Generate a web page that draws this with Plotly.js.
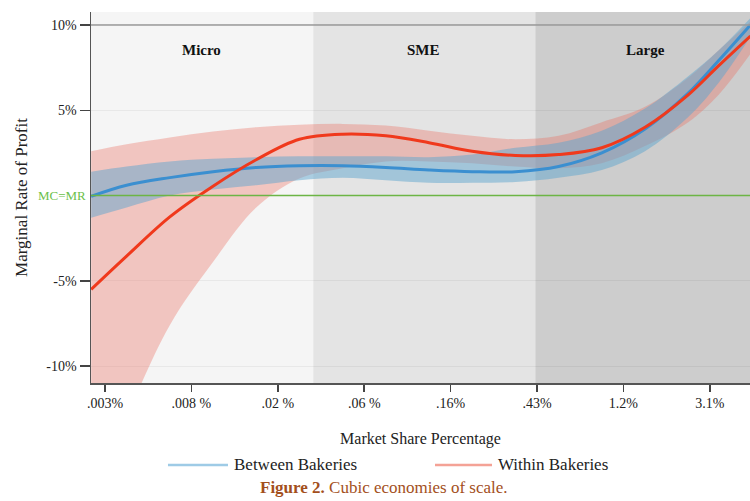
<!DOCTYPE html>
<html>
<head>
<meta charset="utf-8">
<script src="https://cdn.plot.ly/plotly-3.0.1.min.js"></script>
<style>html,body{margin:0;padding:0;background:#fff;}#chart{width:750px;height:501px;}</style>
</head>
<body>
<div id="chart"></div>
<script>
// Market-share tick labels (log-spaced positions 0..7)
const tickLabels = [".003%", ".008 %", ".02 %", ".06 %", ".16%", ".43%", "1.2%", "3.1%"];
const tickPos = [0, 1, 2, 3, 4, 5, 6, 7];

// sample positions along the market-share (log) axis
const xPos = [-0.16, 0.25, 0.75, 1.25, 1.75, 2.25, 2.75, 3.25, 3.75, 4.25, 4.75, 5.25, 5.75, 6.25, 6.75, 7.1, 7.47];

// Between Bakeries: fit and confidence band (%)
const betweenFit   = [-0.05, 0.6, 1.05, 1.4, 1.65, 1.75, 1.75, 1.65, 1.5, 1.4, 1.4, 1.7, 2.5, 3.9, 6.0, 7.9, 10.0];
const betweenUpper = [1.4, 1.7, 2.0, 2.15, 2.25, 2.3, 2.3, 2.3, 2.25, 2.4, 2.8, 3.1, 3.8, 5.1, 7.0, 8.5, 10.4];
const betweenLower = [-1.3, -0.7, 0.0, 0.35, 0.6, 0.9, 1.05, 0.9, 0.75, 0.75, 0.8, 1.05, 1.5, 2.6, 4.6, 6.6, 9.3];

// Within Bakeries: fit and confidence band (%)
const withinFit   = [-5.5, -3.55, -1.25, 0.55, 2.1, 3.3, 3.6, 3.5, 3.1, 2.6, 2.35, 2.4, 2.8, 4.0, 5.9, 7.6, 9.35];
const withinUpper = [2.6, 3.0, 3.4, 3.75, 4.0, 4.15, 4.2, 4.1, 3.8, 3.5, 3.3, 3.5, 4.3, 5.2, 6.9, 8.5, 10.2];
const withinLower = [-18, -13.0, -7.6, -3.9, -0.7, 1.0, 1.6, 2.0, 2.0, 1.9, 1.7, 1.6, 1.9, 2.9, 4.3, 5.9, 8.3];

// Firm-size regions (boundaries on the same axis)
const regionNames = ["Micro", "SME", "Large"];
const regionBounds = [-0.162, 2.41, 4.98, 7.465];

// y ticks
const yTickVals = [10, 5, -5, -10];
const yTickText = ["10%", "5%", "-5%", "-10%"];

const serif = "Liberation Serif, Times New Roman, serif";
const regionColors = ["#f5f5f5", "#e4e4e4", "#cdcdcd"];

const traces = [
  {x: xPos, y: withinUpper, mode: "lines", line: {width: 0, shape: "spline", smoothing: 1}, hoverinfo: "skip", showlegend: false},
  {x: xPos, y: withinLower, mode: "lines", line: {width: 0, shape: "spline", smoothing: 1}, fill: "tonexty", fillcolor: "rgba(235,110,95,0.35)", hoverinfo: "skip", showlegend: false},
  {x: xPos, y: betweenUpper, mode: "lines", line: {width: 0, shape: "spline", smoothing: 1}, hoverinfo: "skip", showlegend: false},
  {x: xPos, y: betweenLower, mode: "lines", line: {width: 0, shape: "spline", smoothing: 1}, fill: "tonexty", fillcolor: "rgba(95,165,205,0.5)", hoverinfo: "skip", showlegend: false},
  {x: xPos, y: betweenFit, mode: "lines", name: "Between Bakeries", line: {color: "#3b8fd0", width: 3, shape: "spline", smoothing: 1}, showlegend: false},
  {x: xPos, y: withinFit, mode: "lines", name: "Within Bakeries", line: {color: "#f0391c", width: 3, shape: "spline", smoothing: 1}, showlegend: false}
];

const shapes = [];
for (let i = 0; i < regionNames.length; i++) {
  shapes.push({type: "rect", xref: "x", yref: "paper", x0: regionBounds[i], x1: regionBounds[i + 1], y0: 0, y1: 1,
    fillcolor: regionColors[i], line: {width: 0}, layer: "below"});
}
// 10% reference line
shapes.push({type: "line", xref: "paper", yref: "y", x0: 0, x1: 1, y0: 10, y1: 10, line: {color: "#9a9a9a", width: 1.5}});
// MC=MR line
shapes.push({type: "line", xref: "paper", yref: "y", x0: 0, x1: 1, y0: 0, y1: 0, line: {color: "#6cb545", width: 1.5}});
// legend lines
shapes.push({type: "line", xref: "paper", yref: "paper", x0: 0.1168, x1: 0.2079, y0: -0.221, y1: -0.221, line: {color: "#9ecbe6", width: 2.5}});
shapes.push({type: "line", xref: "paper", yref: "paper", x0: 0.522, x1: 0.6085, y0: -0.221, y1: -0.221, line: {color: "#f4a296", width: 2.5}});

const regionLabelX = [1.12, 3.69, 6.26];
const annotations = regionNames.map((n, i) => ({
  x: regionLabelX[i], y: 8.53, xref: "x", yref: "y", yanchor: "middle", text: "<b>" + n + "</b>", showarrow: false,
  font: {family: serif, size: 15, color: "#111"}
}));
annotations.push({x: -0.004, y: 0, xref: "paper", yref: "y", xanchor: "right", yanchor: "middle", text: "MC=MR", showarrow: false,
  font: {family: serif, size: 13, color: "#6cbf4a"}});
annotations.push({x: 0.214, y: -0.221, xref: "paper", yref: "paper", xanchor: "left", yanchor: "middle", text: "Between Bakeries", showarrow: false,
  font: {family: serif, size: 17, color: "#222"}});
annotations.push({x: 0.6146, y: -0.221, xref: "paper", yref: "paper", xanchor: "left", yanchor: "middle", text: "Within Bakeries", showarrow: false,
  font: {family: serif, size: 17, color: "#222"}});
annotations.push({x: 0.4446, y: -0.283, xref: "paper", yref: "paper", xanchor: "center", yanchor: "middle", text: "<b>Figure 2.</b> Cubic economies of scale.", showarrow: false,
  font: {family: serif, size: 17, color: "#a34f1c"}});

const layout = {
  width: 750, height: 501,
  margin: {l: 91, r: 0, t: 12, b: 118},
  paper_bgcolor: "#ffffff", plot_bgcolor: "#ffffff",
  showlegend: false,
  xaxis: {
    range: [-0.162, 7.465], tickvals: tickPos, ticktext: tickLabels,
    ticks: "outside", ticklen: 7, tickwidth: 1.5, tickcolor: "#444",
    showgrid: false, zeroline: false, showline: true, linecolor: "#555", linewidth: 1.5,
    tickfont: {family: serif, size: 14, color: "#222"},
    title: {text: "Market Share Percentage", font: {family: serif, size: 16, color: "#222"}, standoff: 22}
  },
  yaxis: {
    range: [-10.99, 10.76], tickvals: yTickVals, ticktext: yTickText,
    ticks: "outside", ticklen: 10, tickwidth: 1.5, tickcolor: "#444",
    showgrid: true, gridcolor: "rgba(0,0,0,0.05)", gridwidth: 1,
    zeroline: false, showline: true, linecolor: "#555", linewidth: 1.5,
    tickfont: {family: serif, size: 14, color: "#222"},
    title: {text: "Marginal Rate of Profit", font: {family: serif, size: 17, color: "#222"}, standoff: 14}
  },
  shapes: shapes,
  annotations: annotations
};

Plotly.newPlot("chart", traces, layout, {displayModeBar: false, staticPlot: true});
</script>
</body>
</html>
